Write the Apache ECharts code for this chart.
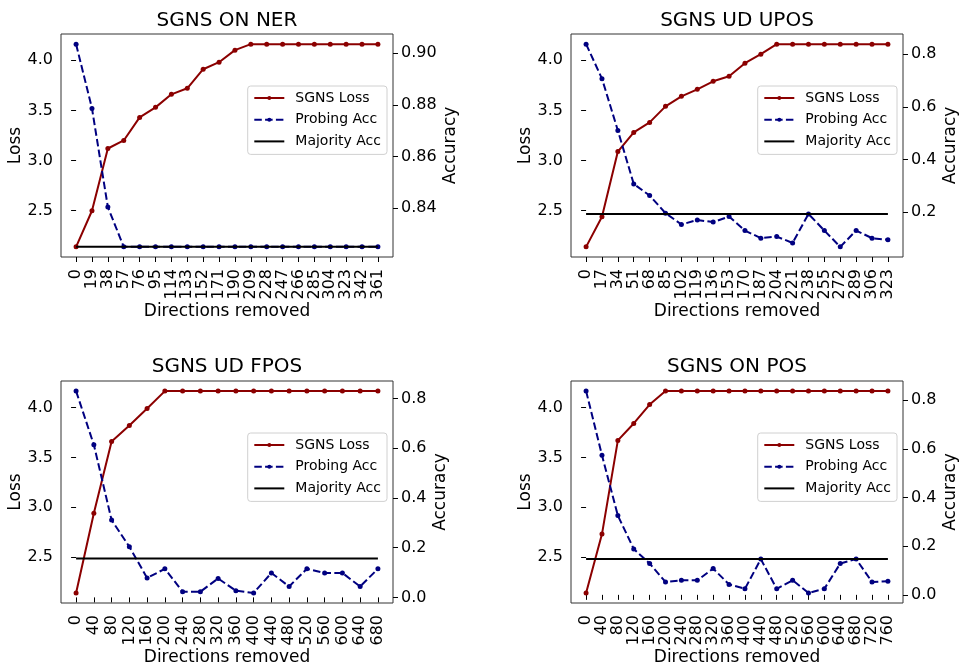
<!DOCTYPE html>
<html><head><meta charset="utf-8">
<script src="https://cdn.jsdelivr.net/npm/echarts@6/dist/echarts.min.js"></script>
<style>html,body{margin:0;padding:0;background:#fff}#c{width:959px;height:665px}</style>
</head><body><div id="c"></div>
<script>
// ---- data ----
const titles = ['SGNS ON NER', 'SGNS UD UPOS', 'SGNS UD FPOS', 'SGNS ON POS'];
const seriesNames = ['SGNS Loss', 'Probing Acc', 'Majority Acc'];
const xName = 'Directions removed';
const lossName = 'Loss';
const accName = 'Accuracy';

const nerX = [0, 19, 38, 57, 76, 95, 114, 133, 152, 171, 190, 209, 228, 247, 266, 285, 304, 323, 342, 361];
const nerLoss = [2.14, 2.50, 3.12, 3.20, 3.43, 3.53, 3.66, 3.72, 3.91, 3.98, 4.10, 4.16, 4.16, 4.16, 4.16, 4.16, 4.16, 4.16, 4.16, 4.16];
const nerProbe = [0.9035, 0.8786, 0.8404, 0.825, 0.825, 0.825, 0.825, 0.825, 0.825, 0.825, 0.825, 0.825, 0.825, 0.825, 0.825, 0.825, 0.825, 0.825, 0.825, 0.825];
const nerMajority = 0.825;
const nerAccTicks = [0.84, 0.86, 0.88, 0.90];

const uposX = [0, 17, 34, 51, 68, 85, 102, 119, 136, 153, 170, 187, 204, 221, 238, 255, 272, 289, 306, 323];
const uposLoss = [2.14, 2.44, 3.09, 3.28, 3.38, 3.54, 3.64, 3.71, 3.79, 3.84, 3.97, 4.06, 4.16, 4.16, 4.16, 4.16, 4.16, 4.16, 4.16, 4.16];
const uposProbe = [0.838, 0.707, 0.510, 0.307, 0.263, 0.196, 0.153, 0.170, 0.162, 0.183, 0.130, 0.101, 0.107, 0.083, 0.193, 0.130, 0.068, 0.130, 0.101, 0.095];
const uposMajority = 0.193;
const uposAccTicks = [0.2, 0.4, 0.6, 0.8];

const fposX = [0, 40, 80, 120, 160, 200, 240, 280, 320, 360, 400, 440, 480, 520, 560, 600, 640, 680];
const fposLoss = [2.14, 2.94, 3.66, 3.82, 3.99, 4.165, 4.165, 4.165, 4.165, 4.165, 4.165, 4.165, 4.165, 4.165, 4.165, 4.165, 4.165, 4.165];
const fposProbe = [0.830, 0.614, 0.311, 0.204, 0.078, 0.115, 0.023, 0.023, 0.076, 0.027, 0.018, 0.098, 0.044, 0.115, 0.098, 0.098, 0.044, 0.115];
const fposMajority = 0.156;
const fposAccTicks = [0.0, 0.2, 0.4, 0.6, 0.8];

const posX = [0, 40, 80, 120, 160, 200, 240, 280, 320, 360, 400, 440, 480, 520, 560, 600, 640, 680, 720, 760];
const posLoss = [2.14, 2.73, 3.67, 3.84, 4.03, 4.165, 4.165, 4.165, 4.165, 4.165, 4.165, 4.165, 4.165, 4.165, 4.165, 4.165, 4.165, 4.165, 4.165, 4.165];
const posProbe = [0.838, 0.574, 0.326, 0.189, 0.129, 0.053, 0.060, 0.060, 0.108, 0.043, 0.025, 0.147, 0.025, 0.060, 0.008, 0.025, 0.129, 0.147, 0.053, 0.056];
const posMajority = 0.147;
const posAccTicks = [0.0, 0.2, 0.4, 0.6, 0.8];

const lossTicks = [2.5, 3.0, 3.5, 4.0];

// ---- build ----
const panels = [
  {title: titles[0], x: nerX, loss: nerLoss, probe: nerProbe, maj: nerMajority, accTicks: nerAccTicks, accDec: 2},
  {title: titles[1], x: uposX, loss: uposLoss, probe: uposProbe, maj: uposMajority, accTicks: uposAccTicks, accDec: 1},
  {title: titles[2], x: fposX, loss: fposLoss, probe: fposProbe, maj: fposMajority, accTicks: fposAccTicks, accDec: 1},
  {title: titles[3], x: posX, loss: posLoss, probe: posProbe, maj: posMajority, accTicks: posAccTicks, accDec: 1}
];
const layout = [
  {left: 61, top: 34, height: 223, accGap: 49, titleTop: 11},
  {left: 571, top: 34, height: 223, accGap: 39, titleTop: 11},
  {left: 61, top: 381, height: 222, accGap: 39, titleTop: 357},
  {left: 571, top: 381, height: 222, accGap: 39, titleTop: 357}
];
const W = 332;
const FONT = 'DejaVu Sans';
const RED = '#8b0000', NAVY = '#000080', BLACK = '#000000';

function pad(lo, hi) { const r = hi - lo; return [lo - 0.05 * r, hi + 0.05 * r]; }

const option = {
  animation: false,
  backgroundColor: '#ffffff',
  title: [], grid: [], xAxis: [], yAxis: [], series: [], legend: []
};

panels.forEach((p, i) => {
  const L = layout[i];
  option.grid.push({left: L.left, top: L.top, width: W, height: L.height, show: true,
    borderColor: '#333', borderWidth: 1, backgroundColor: 'transparent', outerBoundsMode: 'none', containLabel: false});
  option.title.push({text: p.title, left: L.left + W / 2, top: L.titleTop, textAlign: 'center', padding: 0,
    textStyle: {fontFamily: FONT, fontSize: 20, fontWeight: 'normal', color: BLACK}});
  const xr = pad(Math.min(...p.x), Math.max(...p.x));
  option.xAxis.push({type: 'value', gridIndex: i, min: xr[0], max: xr[1],
    name: xName, nameLocation: 'middle', nameGap: 45,
    nameTextStyle: {fontFamily: FONT, fontSize: 17, color: BLACK},
    axisLine: {show: false}, splitLine: {show: false},
    axisTick: {show: true, customValues: p.x, length: 5, lineStyle: {color: BLACK, width: 1}},
    axisLabel: {customValues: p.x, rotate: 90, margin: 12, fontFamily: FONT, fontSize: 16, color: BLACK,
      formatter: v => String(Math.round(v))}
  });
  const lr = pad(Math.min(...p.loss), Math.max(...p.loss));
  option.yAxis.push({type: 'value', gridIndex: i, position: 'left', min: lr[0], max: lr[1],
    name: lossName, nameLocation: 'middle', nameGap: 36,
    nameTextStyle: {fontFamily: FONT, fontSize: 17, color: BLACK},
    axisLine: {show: false}, splitLine: {show: false},
    axisTick: {show: true, customValues: lossTicks, length: 5, lineStyle: {color: BLACK, width: 1}},
    axisLabel: {customValues: lossTicks, margin: 8, fontFamily: FONT, fontSize: 16, color: BLACK,
      formatter: v => v.toFixed(1)}
  });
  const accAll = p.probe.concat([p.maj]);
  const ar = pad(Math.min(...accAll), Math.max(...accAll));
  option.yAxis.push({type: 'value', gridIndex: i, position: 'right', min: ar[0], max: ar[1],
    name: accName, nameLocation: 'middle', nameGap: L.accGap,
    nameTextStyle: {fontFamily: FONT, fontSize: 17, color: BLACK},
    axisLine: {show: false}, splitLine: {show: false},
    axisTick: {show: true, customValues: p.accTicks, length: 5, lineStyle: {color: BLACK, width: 1}},
    axisLabel: {customValues: p.accTicks, margin: 8, fontFamily: FONT, fontSize: 16, color: BLACK,
      formatter: v => v.toFixed(p.accDec)}
  });
  option.series.push({name: seriesNames[0], type: 'line', xAxisIndex: i, yAxisIndex: 2 * i,
    data: p.x.map((v, k) => [v, p.loss[k]]), symbol: 'circle', symbolSize: 5, silent: true,
    lineStyle: {color: RED, width: 2}, itemStyle: {color: RED}, z: 2});
  option.series.push({name: seriesNames[1], type: 'line', xAxisIndex: i, yAxisIndex: 2 * i + 1,
    data: p.x.map((v, k) => [v, p.probe[k]]), symbol: 'circle', symbolSize: 5, silent: true,
    lineStyle: {color: NAVY, width: 2, type: [7.5, 3.3]}, itemStyle: {color: NAVY}, z: 3});
  option.series.push({name: seriesNames[2], type: 'line', xAxisIndex: i, yAxisIndex: 2 * i + 1,
    data: p.x.map(v => [v, p.maj]), symbol: 'none', silent: true,
    lineStyle: {color: BLACK, width: 2}, itemStyle: {color: BLACK}, z: 4});
  option.legend.push({orient: 'vertical', left: L.left + 186.7, top: L.top + 52,
    padding: [4, 6, 5, 5.6], itemGap: 5.7, itemWidth: 30, itemHeight: 5,
    backgroundColor: 'rgba(255,255,255,0.8)', borderColor: '#d0d0d0', borderWidth: 1, borderRadius: 3,
    selectedMode: false,
    textStyle: {fontFamily: FONT, fontSize: 14, color: BLACK, lineHeight: 16, padding: [0, 0, 0, 6]},
    data: [seriesNames[0], seriesNames[1], {name: seriesNames[2], itemStyle: {opacity: 0}}]
  });
});

const chart = echarts.init(document.getElementById('c'), null, {renderer: 'canvas'});
chart.setOption(option);
</script>
</body></html>
